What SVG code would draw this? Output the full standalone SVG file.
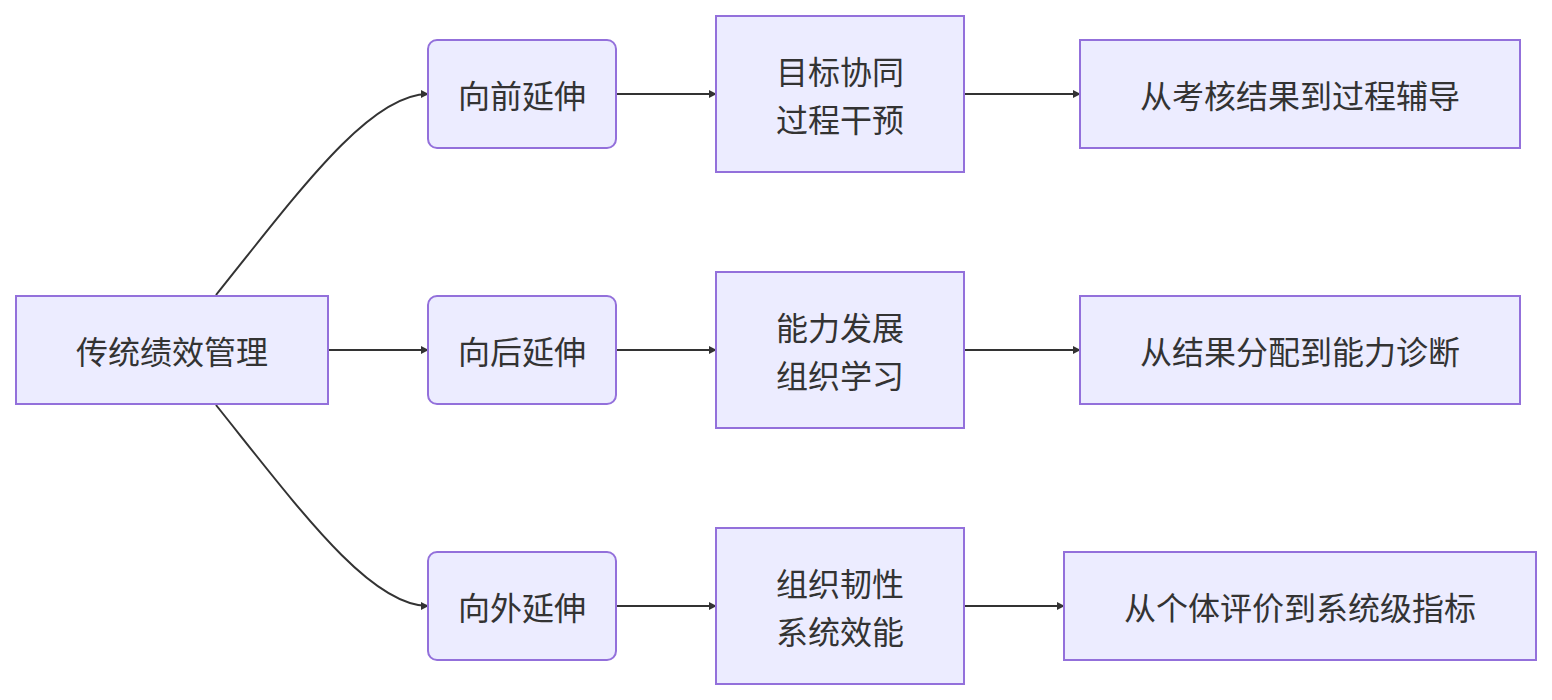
<svg xmlns="http://www.w3.org/2000/svg" width="1552" height="700" viewBox="0 0 1552 700">
<style>
.n{fill:#ECECFF;stroke:#9370DB;stroke-width:2}
.t{font-family:"Noto Sans CJK SC","Liberation Sans",sans-serif;font-size:32px;fill:#333;text-anchor:middle;dominant-baseline:central}
.e{fill:none;stroke:#333;stroke-width:2}
</style>
<defs><marker id="a" viewBox="0 0 10 10" refX="9" refY="5" markerWidth="8" markerHeight="8" markerUnits="userSpaceOnUse" orient="auto"><path d="M0,0L10,5L0,10z" fill="#333"/></marker></defs>
<rect width="1552" height="700" fill="#fff"/>
<g id="edges">
<path class="e" marker-end="url(#a)" d="M216,295 C300,190 370,94 428,94"/>
<path class="e" marker-end="url(#a)" d="M216,405 C300,510 370,606 428,606"/>
<path class="e" marker-end="url(#a)" d="M328,350H428"/>
<path class="e" marker-end="url(#a)" d="M616,94H716"/>
<path class="e" marker-end="url(#a)" d="M616,350H716"/>
<path class="e" marker-end="url(#a)" d="M616,606H716"/>
<path class="e" marker-end="url(#a)" d="M964,94H1080"/>
<path class="e" marker-end="url(#a)" d="M964,350H1080"/>
<path class="e" marker-end="url(#a)" d="M964,606H1064"/>
</g>
<g id="A"><rect class="n" x="16" y="296" width="312" height="108"/><text class="t" x="172" y="350">传统绩效管理</text></g>
<g id="B1"><rect class="n" x="428" y="40" width="188" height="108" rx="9"/><text class="t" x="522" y="94">向前延伸</text></g>
<g id="B2"><rect class="n" x="428" y="296" width="188" height="108" rx="9"/><text class="t" x="522" y="350">向后延伸</text></g>
<g id="B3"><rect class="n" x="428" y="552" width="188" height="108" rx="9"/><text class="t" x="522" y="606">向外延伸</text></g>
<g id="C1"><rect class="n" x="716" y="16" width="248" height="156"/><text class="t" x="840" y="70">目标协同</text><text class="t" x="840" y="118">过程干预</text></g>
<g id="C2"><rect class="n" x="716" y="272" width="248" height="156"/><text class="t" x="840" y="326">能力发展</text><text class="t" x="840" y="374">组织学习</text></g>
<g id="C3"><rect class="n" x="716" y="528" width="248" height="156"/><text class="t" x="840" y="582">组织韧性</text><text class="t" x="840" y="630">系统效能</text></g>
<g id="D1"><rect class="n" x="1080" y="40" width="440" height="108"/><text class="t" x="1300" y="94">从考核结果到过程辅导</text></g>
<g id="D2"><rect class="n" x="1080" y="296" width="440" height="108"/><text class="t" x="1300" y="350">从结果分配到能力诊断</text></g>
<g id="D3"><rect class="n" x="1064" y="552" width="472" height="108"/><text class="t" x="1300" y="606">从个体评价到系统级指标</text></g>
</svg>
